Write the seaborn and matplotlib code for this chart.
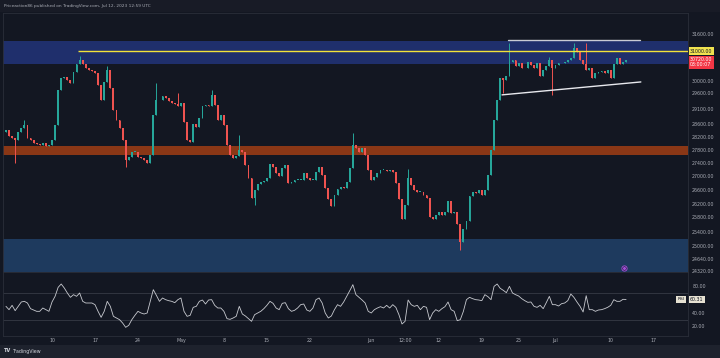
import matplotlib
matplotlib.use("Agg")
import matplotlib.pyplot as plt
import matplotlib.transforms as mtransforms
from matplotlib.patches import Rectangle
from matplotlib.ticker import NullLocator
import numpy as np
import pandas as pd
import seaborn as sns

# 12h closes (BTC/USD, Apr 2 - Jul 12 2023)
closes = [
    28428, 28240, 28180, 28117, 28360, 28490, 28585, 28180, 28117, 28025,
    27990, 27961, 28025, 27930, 27961, 28117, 28585, 29706, 30100, 30134,
    30035, 29936, 30300, 30570, 30705, 30570, 30435, 30368, 30335, 30267,
    29870, 29382, 29970, 30368, 29772, 29060, 28743, 28490, 28117, 27505,
    27594, 27747, 27747, 27594, 27564, 27505, 27414, 27655, 28901, 29382,
    29382, 29510, 29447, 29350, 29286, 29254, 29188, 29286, 28680, 28117,
    28055, 28617, 28522, 28806, 29188, 29220, 29188, 29544, 29220, 28743,
    28901, 28585, 27961, 27655, 27564, 27625, 27808, 27747, 27352, 26963,
    26375, 26608, 26785, 26846, 26875, 26963, 27383, 27292, 27113, 27023,
    27262, 27352, 26816, 26846, 26904, 26904, 26904, 27113, 26963, 26904,
    26904, 27143, 27292, 27053, 26667, 26318, 26142, 26462, 26638, 26696,
    26667, 26846, 27262, 27961, 27870, 27747, 27870, 27655, 27202, 26904,
    26993, 27113, 27202, 27202, 27172, 27202, 27143, 26816, 26318, 25743,
    26171, 26963, 26755, 26608, 26550, 26550, 26462, 26375, 25800, 25743,
    25857, 25970, 25872, 25970, 26260, 25914, 25970, 25603, 25100, 25461,
    25687, 26433, 26550, 26521, 26608, 26462, 26608, 27053, 27808, 28743,
    29382, 30100, 30035, 30167, 30638, 30705, 30502, 30604, 30435, 30435,
    30638, 30536, 30435, 30604, 30167, 30368, 30502, 30705, 30435, 30536,
    30604, 30604, 30638, 30705, 30773, 31115, 30978, 30705, 30570, 30368,
    30435, 30100, 30267, 30300, 30335, 30267, 30368, 30100, 30570, 30773,
    30570, 30638, 30720,
]
first_open = 28350

# long wicks visible on the chart
high_spikes = {6: 28743, 24: 30830, 33: 30502, 49: 29936, 56: 29609, 67: 29706,
               76: 28272, 113: 28334, 131: 27232, 164: 31287, 177: 30807,
               185: 31287, 189: 31287}
low_spikes = {3: 27414, 39: 27292, 81: 26171, 148: 24900, 162: 29609, 178: 29544}

rsi = [
    50, 45, 51.5, 43.5, 50, 56.5, 57.5, 55, 46.5, 44.5,
    42.5, 42.5, 47.5, 45, 42.5, 56.5, 65, 78.5, 83.5, 77.5,
    70, 63.5, 67.5, 65, 70, 57.5, 55, 55, 55, 52.5,
    42.5, 33.5, 42.5, 57.5, 50, 35, 32.5, 30, 25, 18.5,
    21.5, 30, 36.5, 42.5, 40, 38.5, 40, 57.5, 75, 66.5,
    57.5, 62.5, 60, 58.5, 57.5, 55.5, 60, 62.5, 42.5, 35,
    36.5, 48.5, 50, 57.5, 59.5, 53.5, 59.5, 60, 51.5, 47.5,
    47.5, 42.5, 31.5, 30.5, 32.5, 35, 50, 38.5, 35.5, 31.5,
    27.5, 37.5, 40, 42.5, 46.5, 51.5, 57.5, 54.5, 47.5, 45,
    54.5, 55.5, 46.5, 42.5, 44, 47.5, 52.5, 53.5, 44.5, 42.5,
    47.5, 60, 62.5, 55, 40, 32.5, 35.5, 45, 52.5, 50,
    56.5, 65, 73.5, 82.5, 67.5, 63.5, 59.5, 55, 42.5, 40,
    45, 47.5, 49.5, 47.5, 51.5, 47.5, 52.5, 48.5, 37.5, 23.5,
    27.5, 59.5, 52.5, 50, 51.5, 45, 50, 48.5, 30, 40,
    45, 42.5, 46.5, 49.5, 56.5, 45, 42.5, 28.5, 30, 42.5,
    60, 63.5, 61.5, 60, 59.5, 58.5, 67.5, 64.5, 60, 80,
    83.5, 77, 74, 70.5, 80, 70, 67.5, 65.5, 61.5, 58.5,
    56, 56.5, 50, 48.5, 51.5, 46.5, 55.5, 65, 52.5, 52.5,
    50.5, 54, 55, 58.5, 68.5, 63.5, 56.5, 50, 41.5, 66,
    45, 45, 42.5, 44.5, 45, 46.5, 48.5, 51.5, 60, 57.5,
    57.5, 60.5, 60.31,
]

price_ticks = [31600, 30000, 29600, 29100, 28600, 28200, 27800, 27400, 27000,
               26600, 26200, 25800, 25400, 25000, 24640, 24320]
rsi_ticks = [80, 40, 20]
date_ticks = ["2023-04-10 00:00", "2023-04-17 00:00", "2023-04-24 00:00", "2023-05-01 00:00",
              "2023-05-08 00:00", "2023-05-15 00:00", "2023-05-22 00:00", "2023-06-01 00:00",
              "2023-06-06 12:00", "2023-06-12 00:00", "2023-06-19 00:00", "2023-06-25 00:00",
              "2023-07-01 00:00", "2023-07-10 00:00", "2023-07-17 00:00"]
date_labels = ["10", "17", "24", "May", "8", "15", "22", "Jun", "12:00", "12",
               "19", "25", "Jul", "10", "17"]

# drawn zones / levels / trendlines (price terms)
supply_zone = (30560, 31370)
mid_zone = (27655, 27922)
demand_zone = (20000, 25182)
level_31k = 31000
level_start = "2023-04-14 05:30"
top_line = (["2023-06-23 06:30", "2023-07-14 18:30"], [31391, 31391])
low_line = (["2023-06-22 07:00", "2023-07-14 21:40"], [29544, 29969])
event_time, event_price = "2023-07-12 04:00", 24401
last_price, countdown = 30720.00, "03:00:07"

BG = "#131722"
TXT = "#a9acb5"
EDGE = "#2a2e39"
UP, DOWN = "#26a69a", "#ef5350"

times = pd.date_range("2023-04-02 12:00", periods=len(closes), freq="12h")
opens = [first_open] + closes[:-1]
highs = [max(o, c) for o, c in zip(opens, closes)]
lows = [min(o, c) for o, c in zip(opens, closes)]
for i, p in high_spikes.items():
    highs[i] = max(highs[i], p)
for i, p in low_spikes.items():
    lows[i] = min(lows[i], p)
df = pd.DataFrame({"time": times, "open": opens, "close": closes,
                   "high": highs, "low": lows, "rsi": rsi})
up = df["close"] >= df["open"]
cols = np.where(up, UP, DOWN)

sns.set_theme(style="dark", rc={"axes.facecolor": BG, "figure.facecolor": BG,
                                "axes.edgecolor": EDGE, "axes.linewidth": 0.6})
plt.rcParams["font.family"] = ["DejaVu Sans"]

fig = plt.figure(figsize=(7.2, 3.58), dpi=100)
W, H = 720, 358
ax = fig.add_axes([3 / W, 1 - 272 / H, 685 / W, 259 / H])
rax = fig.add_axes([3 / W, 1 - 336 / H, 685 / W, 64 / H], sharex=ax)

x0 = pd.Timestamp("2023-04-10") - pd.Timedelta(days=49 / 6.14)
x1 = pd.Timestamp("2023-04-10") + pd.Timedelta(days=636 / 6.14)

# zones
ax.axhspan(*supply_zone, color="#1f2f6c", lw=0, zorder=0)
ax.axhspan(*mid_zone, color="#8a3716", lw=0, zorder=0)
ax.axhspan(*demand_zone, color="#1e3a5e", lw=0, zorder=0)

# candles
body = np.maximum((df["close"] - df["open"]).abs(), 10)
bottom = np.minimum(df["open"], df["close"])
ax.vlines(df["time"], df["low"], df["high"], colors=cols, linewidth=0.7, zorder=3)
ax.bar(df["time"], body, bottom=bottom, width=0.3, color=cols, linewidth=0, zorder=4)

ax.hlines(level_31k, pd.Timestamp(level_start), x1, color="#f2e23a", lw=1.0, zorder=5)
ax.plot(pd.to_datetime(top_line[0]), top_line[1], color="#c9ccd4", lw=1.0, zorder=5)
ax.plot(pd.to_datetime(low_line[0]), low_line[1], color="#e8e9ee", lw=1.0, zorder=5)
ax.scatter([pd.Timestamp(event_time)], [event_price], s=14, facecolor=BG,
           edgecolor="#a24fd8", linewidth=0.7, zorder=6)
ax.scatter([pd.Timestamp(event_time)], [event_price], s=1.5, color="#a24fd8", zorder=7)

ax.set_yscale("log")
ax.set_ylim(24291, 32342)
ax.set_xlim(x0, x1)
ax.set_yticks(price_ticks, [f"{t:.2f}" for t in price_ticks])
ax.yaxis.set_minor_locator(NullLocator())
ax.yaxis.tick_right()
ax.tick_params(axis="y", length=0, pad=3, labelsize=3.4, labelcolor=TXT)
ax.tick_params(axis="x", length=0, labelbottom=False)
ax.grid(False)

trans = mtransforms.blended_transform_factory(ax.transAxes, ax.transData)
ax.text(1.003, level_31k, "31000.00", transform=trans, ha="left", va="center",
        fontsize=3.4, color=BG, clip_on=False, zorder=10,
        bbox=dict(boxstyle="square,pad=0.3", fc="#f0e24f", ec="none"))
ax.text(1.003, 30630, f"{last_price:.2f}\n{countdown}", transform=trans, ha="left",
        va="center", fontsize=3.4, color="white", linespacing=1.1, clip_on=False,
        zorder=10, bbox=dict(boxstyle="square,pad=0.3", fc="#f23645", ec="none"))

# RSI pane
rax.axhline(70, color="#363a45", lw=0.6)
rax.axhline(30, color="#363a45", lw=0.6)
sns.lineplot(data=df, x="time", y="rsi", ax=rax, color="#c8cad0", linewidth=0.6)
rax.set_ylim(5.5, 101.5)
rax.set_xlim(x0, x1)
rax.set_yticks(rsi_ticks, [f"{t:.2f}" for t in rsi_ticks])
rax.yaxis.tick_right()
rax.tick_params(axis="y", length=0, pad=3, labelsize=3.4, labelcolor=TXT)
rax.set_xticks(pd.to_datetime(date_ticks), date_labels)
rax.tick_params(axis="x", length=0, pad=1.2, labelsize=3.4, labelcolor=TXT)
rax.set_xlabel("")
rax.set_ylabel("")
rax.grid(False)

rtrans = mtransforms.blended_transform_factory(rax.transAxes, rax.transData)
rax.text(0.995, rsi[-1], "RSI", transform=rtrans, ha="right", va="center",
         fontsize=3.2, color=BG, clip_on=False, zorder=10,
         bbox=dict(boxstyle="square,pad=0.25", fc="#e6e1d2", ec="none"))
rax.text(1.003, rsi[-1], f"{rsi[-1]:.2f}", transform=rtrans, ha="left", va="center",
         fontsize=3.4, color=BG, clip_on=False, zorder=10,
         bbox=dict(boxstyle="square,pad=0.3", fc="#e6e1d2", ec="none"))

for a in (ax, rax):
    for s in a.spines.values():
        s.set_color(EDGE)
        s.set_linewidth(0.6)

# header and footer bars
fig.patches.append(Rectangle((0, 1 - 12 / H), 1, 12 / H, transform=fig.transFigure,
                             fc="#181b26", ec="none", zorder=-1))
fig.patches.append(Rectangle((0, 0), 1, 13 / H, transform=fig.transFigure,
                             fc="#1e222d", ec="none", zorder=-1))
fig.text(4 / W, 1 - 6 / H, "Priceaction86 published on TradingView.com, Jul 12, 2023 12:59 UTC",
         fontsize=3.1, color=TXT, va="center")
fig.text(4 / W, 1 - 351 / H, "TV", fontsize=3.6, weight="bold", color="#d1d4dc", va="center")
fig.text(13 / W, 1 - 351 / H, "TradingView", fontsize=3.4, color="#d1d4dc", va="center")

fig.savefig("out.png", dpi=100, facecolor=BG)
